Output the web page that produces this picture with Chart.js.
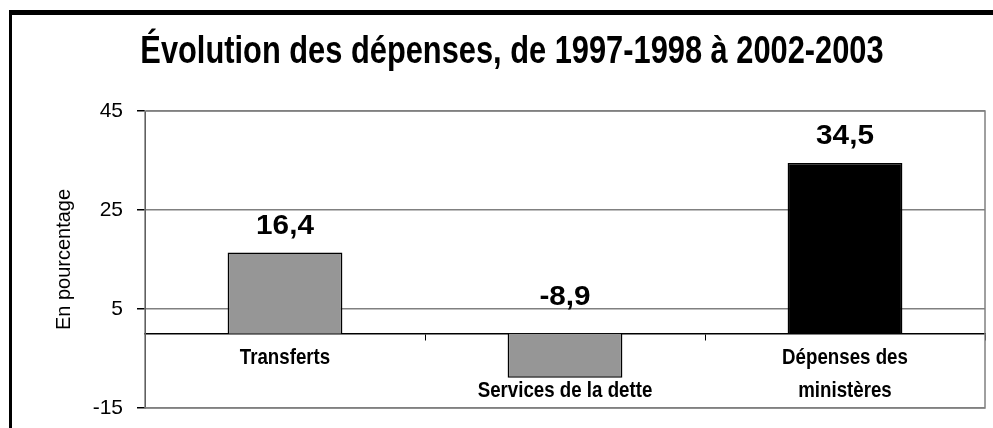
<!DOCTYPE html>
<html>
<head>
<meta charset="utf-8">
<script src="https://cdn.jsdelivr.net/npm/chart.js@4/dist/chart.umd.min.js"></script>
<style>
    html, body { margin: 0; padding: 0; background: #fff; overflow: hidden; }
    #wrap { position: relative; width: 993px; height: 428px; }
    #frame {
        position: absolute; left: 9px; top: 10px; width: 1200px; height: 600px;
        border-top: 5px solid #000; border-left: 3px solid #000; pointer-events: none;
    }
    canvas { position: absolute; left: 0; top: 0; }
</style>
</head>
<body>
<div id="wrap">
    <canvas id="myChart" width="993" height="428" style="width:993px;height:428px"></canvas>
    <div id="frame"></div>
</div>
<script>
const chartTitle = 'Évolution des dépenses, de 1997-1998 à 2002-2003';
const axisTitle = 'En pourcentage';
const categories = ['Transferts', 'Services de la dette', 'Dépenses des ministères'];
// label lines as they sit under the zero line (debt label pushed below its bar)
const tickLabels = [['Transferts'], ['', 'Services de la dette'], ['Dépenses des', 'ministères']];
const values = [16.4, -8.9, 34.5];
const yTicks = [-15, 5, 25, 45];
const barColors = ['#969696', '#969696', '#000000'];

const FONT = '"Liberation Sans", Arial, sans-serif';
Chart.defaults.font.family = FONT;
Chart.defaults.color = '#000';

// no narrow font installed, so squeeze / widen text by hand
function scaledText(ctx, text, x, y, font, sx) {
    ctx.save();
    ctx.translate(x, y);
    ctx.scale(sx, 1);
    ctx.font = font;
    ctx.fillStyle = '#000';
    ctx.textAlign = 'center';
    ctx.textBaseline = 'alphabetic';
    ctx.fillText(text, 0, 0);
    ctx.restore();
}

// grey frame round the plot area
const plotBorder = {
    id: 'plotBorder',
    beforeDatasetsDraw(chart) {
        const a = chart.chartArea;
        const ctx = chart.ctx;
        ctx.save();
        ctx.strokeStyle = '#808080';
        ctx.lineWidth = 1.5;
        ctx.strokeRect(a.left, a.top, a.right - a.left, a.bottom - a.top);
        ctx.restore();
    }
};

const texts = {
    id: 'texts',
    afterDatasetsDraw(chart) {
        const ctx = chart.ctx;
        const x = chart.scales.x;
        const y = chart.scales.y;
        const zero = y.getPixelForValue(0);

        // title
        scaledText(ctx, chartTitle, 512, 63, 'bold 39px ' + FONT, 0.79);

        // values
        values.forEach((v, i) => {
            const top = y.getPixelForValue(Math.max(v, 0));
            scaledText(ctx, v.toFixed(1).replace('.', ','), x.getPixelForValue(i),
                top - (v >= 0 ? 19 : 29), 'bold 27px ' + FONT, 1.1);
        });

        // categories under the zero line
        tickLabels.forEach((lines, i) => {
            lines.forEach((line, k) => {
                if (line) scaledText(ctx, line, x.getPixelForValue(i), zero + 30 + k * 33, 'bold 22px ' + FONT, 0.85);
            });
        });
    }
};

new Chart(document.getElementById('myChart').getContext('2d'), {
    type: 'bar',
    data: {
        labels: categories,
        datasets: [{
            label: axisTitle,
            data: values,
            backgroundColor: barColors,
            borderColor: '#000',
            borderWidth: 1.5,
            barPercentage: 0.41,
            categoryPercentage: 1
        }]
    },
    options: {
        responsive: false,
        animation: false,
        layout: { padding: { left: 50, right: 8, top: 111, bottom: 20 } },
        plugins: {
            legend: { display: false },
            tooltip: { enabled: false },
            title: { display: false }
        },
        scales: {
            x: {
                position: { y: 0 },
                afterFit(scale) { scale.height = 0; scale.paddingTop = 0; scale.paddingBottom = 0; },
                grid: { drawOnChartArea: false, drawTicks: true, tickLength: 6, color: '#000', lineWidth: 1 },
                border: { color: '#000', width: 1.5 },
                ticks: { display: false }
            },
            y: {
                min: yTicks[0],
                max: yTicks[yTicks.length - 1],
                afterFit(scale) { scale.width = 95; scale.paddingTop = 0; scale.paddingBottom = 0; },
                afterBuildTicks(scale) { scale.ticks = yTicks.map(v => ({ value: v })); },
                grid: { color: '#808080', lineWidth: 1.5, tickLength: 8, tickColor: '#000' },
                border: { color: '#000', width: 1 },
                ticks: { padding: 14, font: { size: 21 } },
                title: {
                    display: true,
                    text: axisTitle,
                    font: { size: 20 },
                    padding: { top: 2, bottom: 0 }
                }
            }
        }
    },
    plugins: [plotBorder, texts]
});
</script>
</body>
</html>
